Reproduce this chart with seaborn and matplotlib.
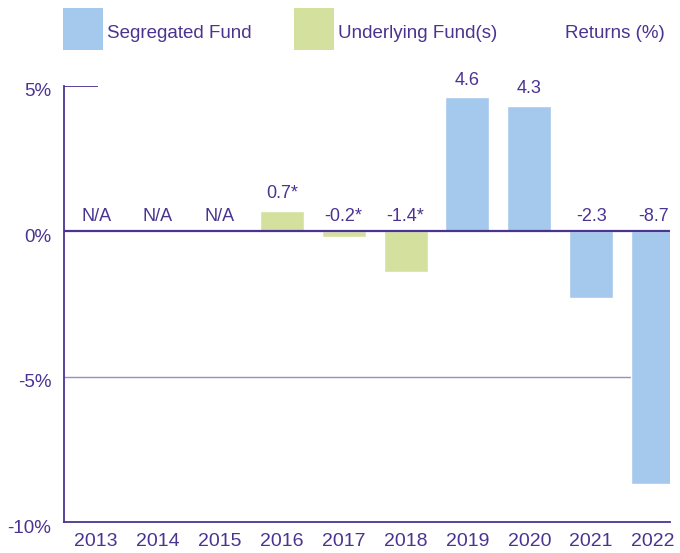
import numpy as np
import pandas as pd
import matplotlib.pyplot as plt
import matplotlib.transforms as mtransforms
from matplotlib.patches import Rectangle
import seaborn as sns

# data
years = ['2013', '2014', '2015', '2016', '2017', '2018', '2019', '2020', '2021', '2022']
returns = [np.nan, np.nan, np.nan, 0.7, -0.2, -1.4, 4.6, 4.3, -2.3, -8.7]
fund = ['Segregated Fund'] * 3 + ['Underlying Fund(s)'] * 3 + ['Segregated Fund'] * 4
value_labels = ['N/A', 'N/A', 'N/A', '0.7*', '-0.2*', '-1.4*', '4.6', '4.3', '-2.3', '-8.7']
yticks = [5, 0, -5, -10]
ytick_labels = ['5%', '0%', '-5%', '-10%']

purple = '#4b3490'
colors = {'Segregated Fund': '#a4c9ec', 'Underlying Fund(s)': '#d3e09e'}

df = pd.DataFrame({'Year': years, 'Return': returns, 'Fund': fund})

sns.set_style('white')
plt.rcParams['font.family'] = ['Liberation Sans', 'DejaVu Sans']

fig = plt.figure(figsize=(6.8, 5.53), dpi=100)
ax = fig.add_axes([0.094, 0.056, 0.891, 0.789])

sns.barplot(data=df, x='Year', y='Return', hue='Fund', palette=colors,
            dodge=False, width=0.71, ax=ax, legend=False, saturation=1)

ax.set_xlim(-0.52, 9.27)
ax.set_ylim(-10, 5)
ax.set_yticks(yticks)
ax.set_yticklabels(ytick_labels)
ax.set_xlabel('')
ax.set_ylabel('')
ax.tick_params(axis='y', colors=purple, labelsize=13.5, length=0, pad=9)
ax.tick_params(axis='x', colors=purple, labelsize=14, length=0, pad=8)

# y labels sit a little below their lines in the original
shift = mtransforms.ScaledTranslation(0, -4 / 100, fig.dpi_scale_trans)
for t in ax.get_yticklabels():
    t.set_transform(t.get_transform() + shift)

for s in ['top', 'right']:
    ax.spines[s].set_visible(False)
for s in ['left', 'bottom']:
    ax.spines[s].set_color(purple)
    ax.spines[s].set_linewidth(1.3)

ax.axhline(0, color=purple, lw=1.6, zorder=3)
ax.axhline(-5, color='#9a8cc4', lw=1.0, zorder=0)
ax.hlines(5, -0.52, 0.03, color=purple, lw=1.3)

# value labels
for i, (v, lab) in enumerate(zip(returns, value_labels)):
    if np.isnan(v) or v < 0:
        y = 0.2
    else:
        y = v + 0.3
    ax.text(i, y, lab, ha='center', va='bottom', color=purple, fontsize=13)

# legend drawn at figure level
W, H = 680, 553
for (x0, label) in [(63, 'Segregated Fund'), (294, 'Underlying Fund(s)')]:
    fig.add_artist(Rectangle((x0 / W, 1 - 50 / H), 40 / W, 42 / H,
                             transform=fig.transFigure, color=colors[label], lw=0))
    fig.text((x0 + 44) / W, 1 - 34 / H, label, color=purple, fontsize=13.5,
             ha='left', va='center')
fig.text(665 / W, 1 - 34 / H, 'Returns (%)', color=purple, fontsize=13.5,
         ha='right', va='center')

fig.savefig('out.png', dpi=100)
